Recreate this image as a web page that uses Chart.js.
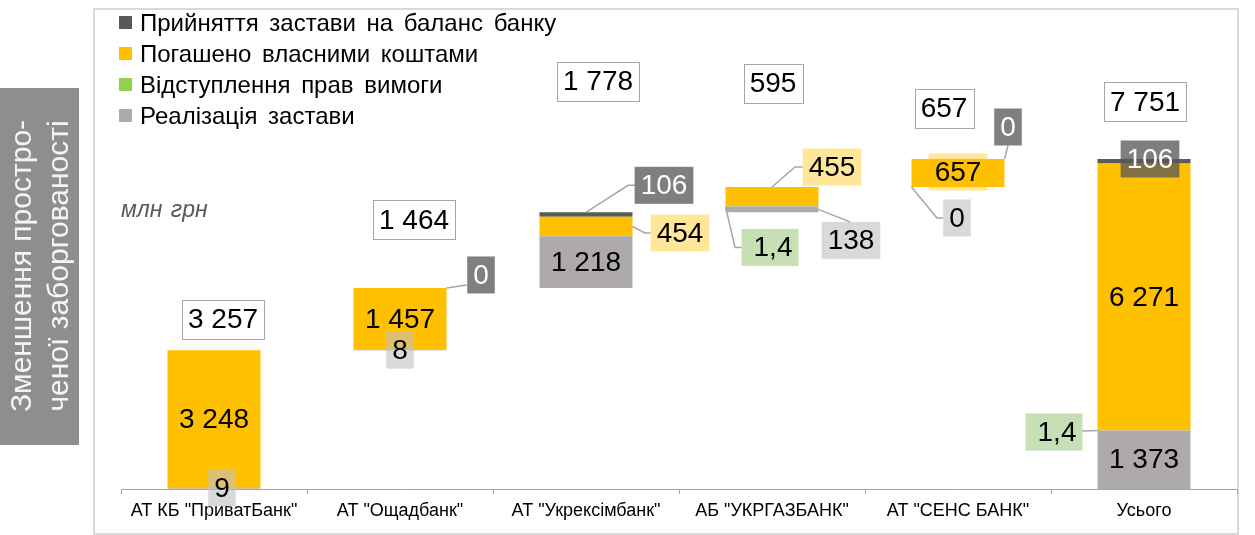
<!DOCTYPE html>
<html lang="uk">
<head>
<meta charset="utf-8">
<title>Зменшення простроченої заборгованості</title>
<script src="https://cdn.jsdelivr.net/npm/chart.js"></script>
<style>
  html, body { margin: 0; padding: 0; background: #fff; }
</style>
</head>
<body>
<canvas id="waterfall" width="1255" height="535"></canvas>

<script>
// ---------------- data (млн грн) ----------------
const banks = ['АТ КБ "ПриватБанк"', 'АТ "Ощадбанк"', 'АТ "Укрексімбанк"', 'АБ "УКРГАЗБАНК"', 'АТ "СЕНС БАНК"', 'Усього'];
const totals = [3257, 1464, 1778, 595, 657, 7751];
const collateralSold = [9, 8, 1218, 138, 0, 1373];        // Реалізація застави
const claimsAssigned = [0, 0, 0, 1.4, 0, 1.4];            // Відступлення прав вимоги
const repaidOwnFunds = [3248, 1457, 454, 455, 657, 6271]; // Погашено власними коштами
const collateralTaken = [0, 0, 106, 0, 0, 106];           // Прийняття застави на баланс банку

// waterfall: each bank starts where the previous ones ended, "Усього" starts at zero
const offsets = totals.map((t, i) =>
    i === totals.length - 1 ? 0 : totals.slice(0, i).reduce((a, b) => a + b, 0));

const FONT = '"Liberation Sans", Arial, sans-serif';
const COLORS = {
    gray: '#AEAAAA',
    green: '#92D050',
    yellow: '#FFC000',
    dark: '#595959'
};
const BOX = {
    plain: { fill: null, text: '#000' },
    soft: { fill: 'rgba(191,191,191,0.6)', text: '#000' },
    dark: { fill: 'rgba(89,89,89,0.77)', text: '#fff' },
    yellow: { fill: '#FFE699', text: '#000' },
    green: { fill: '#C5E0B4', text: '#000' }
};

// dataset index: 1 gray, 2 green, 3 yellow, 4 dark
// box centre = (segment centre x + dx, segment edge y + dy); leader points relative to box centre
const segLabels = [
    { ds: 3, i: 0, style: 'plain' },
    { ds: 1, i: 0, style: 'soft', y: 'm', dx: 8, dy: -1 },

    { ds: 3, i: 1, style: 'plain' },
    { ds: 1, i: 1, style: 'soft', y: 'm', dx: 0, dy: 0 },
    { ds: 4, i: 1, style: 'dark', y: 't', dx: 81, dy: -13, from: ['r', 't'], path: [[-14, 10]] },

    { ds: 1, i: 2, style: 'plain' },
    { ds: 3, i: 2, style: 'yellow', y: 'm', dx: 94, dy: 6.5, from: ['r', 'm'], path: [[-35, 0], [-29, 0]] },
    { ds: 4, i: 2, style: 'dark', y: 't', dx: 78, dy: -27, from: ['c', 't'], path: [[-36, 0], [-29, 0]] },

    { ds: 3, i: 3, style: 'yellow', y: 't', dx: 60, dy: -20, from: ['c', 't'], path: [[-37, 0], [-29, 0]] },
    { ds: 2, i: 3, style: 'green', y: 'm', dx: -2, dy: 41, from: ['l', 'm'], path: [[-35, 0], [-28, 0]], pad: 18 },
    { ds: 1, i: 3, style: 'soft', y: 'm', dx: 79, dy: 31, from: ['r', 'm'], path: [[-1, -18.5]] },

    { ds: 3, i: 4, style: 'yellow', y: 'm', dx: 0, dy: -1, under: true },
    { ds: 4, i: 4, style: 'dark', y: 't', dx: 50, dy: -32, from: ['r', 't'], path: [[0, 18.5]] },
    { ds: 1, i: 4, style: 'soft', y: 'b', dx: -1, dy: 31, from: ['l', 'b'], path: [[-20, 0], [-14, 0]] },

    { ds: 1, i: 5, style: 'plain' },
    { ds: 3, i: 5, style: 'plain' },
    { ds: 4, i: 5, style: 'dark', y: 't', dx: 6, dy: 0 },
    { ds: 2, i: 5, style: 'green', y: 'm', dx: -90, dy: 1.5, from: ['l', 'm'], path: [[28, -1]], pad: 18 }
];

// total boxes, offset from the top of each column
const totalOffsets = [[9, -31], [14, -68], [12, -131], [1, -104], [-14, -51], [1, -57]];

function fmt(v) {
    const parts = String(v).split('.');
    const s = parts[0].replace(/\B(?=(\d{3})+(?!\d))/g, ' ');
    return parts[1] ? s + ',' + parts[1] : s;
}

function segment(chart, ds, i) {
    const el = chart.getDatasetMeta(ds).data[i];
    const top = Math.min(el.y, el.base), bottom = Math.max(el.y, el.base);
    return { l: el.x - el.width / 2, c: el.x, r: el.x + el.width / 2, t: top, m: (top + bottom) / 2, b: bottom };
}

function boxRect(ctx, text, cx, cy, pad) {
    const w = ctx.measureText(text).width + (pad || 12), h = 37;
    return { x: cx - w / 2, y: cy - h / 2, w: w, h: h };
}

function labelPos(chart, lb) {
    const s = segment(chart, lb.ds, lb.i);
    if (lb.style === 'plain') return { s: s, cx: s.c, cy: s.m };
    return { s: s, cx: s.c + lb.dx, cy: s[lb.y] + lb.dy };
}

const labelPlugin = {
    id: 'waterfallLabels',
    beforeDraw(chart) {
        const ctx = chart.ctx;
        ctx.save();
        // outer frame
        ctx.strokeStyle = '#D9D9D9';
        ctx.lineWidth = 2;
        ctx.strokeRect(94, 9, 1144, 525);
        // side caption
        ctx.fillStyle = '#8E8E8E';
        ctx.fillRect(0, 88, 79, 357);
        ctx.translate(40, 266);
        ctx.rotate(-Math.PI / 2);
        ctx.fillStyle = '#F4F4F4';
        ctx.font = '30px ' + FONT;
        ctx.textAlign = 'center';
        ctx.textBaseline = 'middle';
        ctx.fillText('Зменшення простро-', 0, -17);
        ctx.fillText('ченої заборгованості', 0, 20);
        ctx.restore();

        ctx.save();
        ctx.fillStyle = '#595959';
        ctx.font = 'italic 23px ' + FONT;
        ctx.textBaseline = 'middle';
        ctx.wordSpacing = '2px';
        ctx.fillText('млн грн', 121, 211);
        ctx.restore();
    },
    beforeDatasetsDraw(chart) {
        const ctx = chart.ctx;
        ctx.save();
        ctx.font = '28px ' + FONT;
        segLabels.filter(lb => lb.under).forEach(lb => {
            const p = labelPos(chart, lb);
            const text = fmt(chart.data.datasets[lb.ds].data[lb.i]);
            const r = boxRect(ctx, text, p.cx, p.cy, lb.pad);
            ctx.fillStyle = BOX[lb.style].fill;
            ctx.fillRect(r.x, r.y, r.w, r.h);
        });
        ctx.restore();
    },
    afterDatasetsDraw(chart) {
        const ctx = chart.ctx;
        ctx.save();
        ctx.font = '28px ' + FONT;
        ctx.textAlign = 'center';
        ctx.textBaseline = 'middle';

        segLabels.forEach(lb => {
            const p = labelPos(chart, lb);
            const st = BOX[lb.style];
            const text = fmt(chart.data.datasets[lb.ds].data[lb.i]);
            if (lb.from) {
                ctx.strokeStyle = '#A6A6A6';
                ctx.lineWidth = 1.5;
                ctx.beginPath();
                ctx.moveTo(p.s[lb.from[0]], p.s[lb.from[1]]);
                lb.path.forEach(pt => ctx.lineTo(p.cx + pt[0], p.cy + pt[1]));
                ctx.stroke();
            }
            if (st.fill && !lb.under) {
                const r = boxRect(ctx, text, p.cx, p.cy, lb.pad);
                ctx.fillStyle = st.fill;
                ctx.fillRect(r.x, r.y, r.w, r.h);
            }
            ctx.fillStyle = st.text;
            ctx.fillText(text, p.cx + (lb.pad ? 3 : 0), p.cy + 1);
        });

        // totals above the columns
        const topMeta = chart.getDatasetMeta(4);
        totals.forEach((t, i) => {
            const el = topMeta.data[i];
            const cx = el.x + totalOffsets[i][0], cy = el.y + totalOffsets[i][1];
            const text = fmt(t);
            const w = ctx.measureText(text).width + 12, h = 39;
            ctx.fillStyle = '#fff';
            ctx.fillRect(cx - w / 2, cy - h / 2, w, h);
            ctx.strokeStyle = '#A6A6A6';
            ctx.lineWidth = 1;
            ctx.strokeRect(Math.round(cx - w / 2) + 0.5, Math.round(cy - h / 2) + 0.5, Math.round(w), h);
            ctx.fillStyle = '#000';
            ctx.fillText(text, cx, cy + 1);
        });
        ctx.restore();
    },
    afterDraw(chart) {
        // vertical legend, top series first
        const ctx = chart.ctx;
        ctx.save();
        ctx.font = '24px ' + FONT;
        ctx.textBaseline = 'middle';
        ctx.wordSpacing = '4px';
        const order = [4, 3, 2, 1];
        order.forEach((ds, k) => {
            const d = chart.data.datasets[ds];
            const y = 23 + k * 31;
            ctx.fillStyle = d.backgroundColor;
            ctx.fillRect(119, y - 7, 13, 13);
            ctx.fillStyle = '#000';
            ctx.fillText(d.label, 140, y + 1);
        });
        ctx.restore();
    }
};

const barDefaults = { categoryPercentage: 1, barPercentage: 0.5, borderWidth: 0 };

new Chart(document.getElementById('waterfall'), {
    type: 'bar',
    data: {
        labels: banks,
        datasets: [
            Object.assign({ label: 'base', data: offsets, backgroundColor: 'rgba(0,0,0,0)' }, barDefaults),
            Object.assign({ label: 'Реалізація застави', data: collateralSold, backgroundColor: COLORS.gray }, barDefaults),
            Object.assign({ label: 'Відступлення прав вимоги', data: claimsAssigned, backgroundColor: COLORS.green }, barDefaults),
            Object.assign({ label: 'Погашено власними коштами', data: repaidOwnFunds, backgroundColor: COLORS.yellow }, barDefaults),
            Object.assign({ label: 'Прийняття застави на баланс банку', data: collateralTaken, backgroundColor: COLORS.dark }, barDefaults)
        ]
    },
    options: {
        responsive: false,
        animation: false,
        layout: { padding: { left: 121, right: 18, top: 20, bottom: 0 } },
        plugins: {
            legend: { display: false },
            tooltip: { enabled: false }
        },
        scales: {
            x: {
                stacked: true,
                grid: {
                    offset: true,
                    drawOnChartArea: false,
                    drawTicks: true,
                    tickLength: 5,
                    color: '#A6A6A6'
                },
                border: { display: true, color: '#A6A6A6', width: 1 },
                ticks: {
                    color: '#000',
                    padding: 6,
                    maxRotation: 0,
                    autoSkip: false,
                    font: { family: FONT, size: 18 }
                },
                afterFit: function (scale) { scale.height = 46; }
            },
            y: {
                stacked: true,
                display: false,
                min: 0,
                max: 11016
            }
        }
    },
    plugins: [labelPlugin]
});
</script>
</body>
</html>
